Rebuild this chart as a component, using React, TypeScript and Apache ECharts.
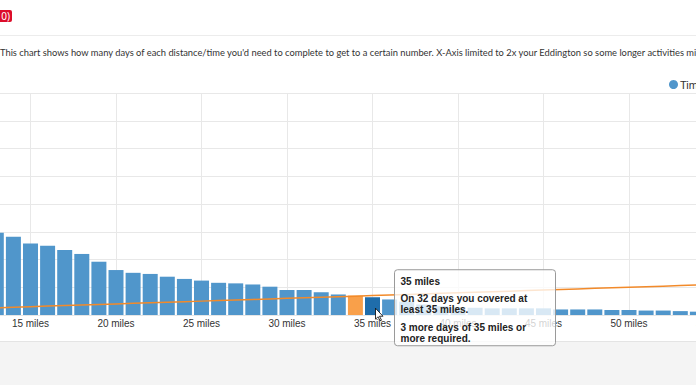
import React, { useEffect, useRef } from "react";
import * as echarts from "echarts";

const miles = [13, 14, 15, 16, 17, 18, 19, 20, 21, 22, 23, 24, 25, 26, 27, 28, 29, 30, 31, 32, 33, 34, 35, 36, 37, 38, 39, 40, 41, 42, 43, 44, 45, 46, 47, 48, 49, 50, 51, 52, 53, 54];
const days = [148, 141, 129, 125, 117, 110, 96, 81, 76, 74, 69, 65, 62, 58, 57, 55, 51, 45, 45, 41, 37, 35, 32, 28, 24, 19, 16, 14, 13, 12, 12, 12, 12, 10, 10, 10, 9, 9, 8, 8, 7, 6];
const eddingtonLine = [12, 13, 14, 15, 16, 17, 18, 19, 20, 21, 22, 23, 24, 25, 26, 27, 28, 29, 30, 31, 32, 33, 34, 35, 36, 37, 38, 39, 40, 41, 42, 43, 44, 45, 46, 47, 48, 49, 50, 51, 52, 53, 54, 55];
const eddington = 34;
const hovered = 35;
const xTicks = { min: 10, max: 55, interval: 5 };
const yTicks = { min: 0, max: 400, interval: 50 };
const description =
  "This chart shows how many days of each distance/time you'd need to complete to get to a certain number. X-Axis limited to 2x your Eddington so some longer activities might not be shown.";

const BLUE = "#5096cb";
const ORANGE = "#f9a04a";
const DARK = "#1f6dab";

export default function App() {
  const ref = useRef<HTMLDivElement>(null);
  useEffect(() => {
    if (!ref.current) return;
    const chart = echarts.init(ref.current, null, { renderer: "svg" });
    const barData = miles.map((m, i) => {
      const item: any = { value: [m, days[i]] };
      if (m === eddington) item.itemStyle = { color: ORANGE };
      if (m === hovered) item.itemStyle = { color: DARK };
      return item;
    });
    const option: any = {
      animation: false,
      legend: {
        data: ["Time"],
        left: 744,
        top: 14,
        icon: "circle",
        itemWidth: 9,
        itemHeight: 9,
        textStyle: { fontSize: 11, color: "#333", fontFamily: "Liberation Sans", padding: [0, 0, 0, -3] },
      },
      grid: { left: 25, right: 25.5, top: 33, bottom: 45, containLabel: false },
      xAxis: {
        type: "value",
        min: xTicks.min,
        max: xTicks.max,
        interval: xTicks.interval,
        axisLine: { show: true, lineStyle: { color: "#e6e6e6" } },
        axisTick: { show: false },
        splitLine: { show: true, lineStyle: { color: "#e8e8e8", width: 1 } },
        axisLabel: {
          formatter: "{value} miles",
          fontSize: 10,
          color: "#333",
          fontFamily: "Liberation Sans",
          margin: 3,
        },
      },
      yAxis: {
        type: "value",
        min: yTicks.min,
        max: yTicks.max,
        interval: yTicks.interval,
        axisLine: { show: false },
        axisTick: { show: false },
        splitLine: { lineStyle: { color: "#e8e8e8" } },
        axisLabel: { show: false },
      },
      series: [
        {
          name: "Time",
          type: "bar",
          barWidth: 15,
          itemStyle: { color: BLUE },
          data: barData,
          z: 2,
        },
        {
          name: "Eddington",
          type: "line",
          data: eddingtonLine.map((m) => [m, m]),
          showSymbol: false,
          lineStyle: { color: "#f28a2a", width: 1.5 },
          itemStyle: { color: "#f28a2a" },
          z: 3,
        },
      ],
    };
    chart.setOption(option);
    const hv = days[miles.indexOf(hovered)];
    const p = chart.convertToPixel({ gridIndex: 0 }, [hovered, hv]) as number[];
    const bx = p[0] + 22;
    const by = p[1] - 27.5;
    const tf = { fontSize: 10, fontWeight: "bold", fill: "#222", fontFamily: "Liberation Sans", verticalAlign: "middle" };
    chart.setOption({
      graphic: [
        {
          type: "rect",
          z: 100,
          shape: { x: bx, y: by, width: 161, height: 76, r: 3 },
          style: { fill: "rgba(255,255,255,0.78)", stroke: "#9a9a9a", lineWidth: 1 },
        },
        { type: "text", z: 101, x: bx + 6, y: by + 12, style: { ...tf, text: `${hovered} miles` } },
        { type: "text", z: 101, x: bx + 6, y: by + 29, style: { ...tf, text: `On ${hv} days you covered at` } },
        { type: "text", z: 101, x: bx + 6, y: by + 40, style: { ...tf, text: `least ${hovered} miles.` } },
        { type: "text", z: 101, x: bx + 6, y: by + 58, style: { ...tf, text: `${hovered - hv} more days of ${hovered} miles or` } },
        { type: "text", z: 101, x: bx + 6, y: by + 68.5, style: { ...tf, text: `more required.` } },
        {
          type: "polygon",
          z: 102,
          x: p[0] + 3,
          y: p[1] + 11,
          shape: { points: [[0, 0], [0, 11], [2.5, 8.5], [4.5, 12.5], [6, 12], [4, 8], [7.5, 8]] },
          style: { fill: "#fff", stroke: "#000", lineWidth: 0.8 },
        },
      ],
    });
    return () => chart.dispose();
  }, []);

  return (
    <div style={{ position: "fixed", left: 0, top: 0, width: 696, height: 385, overflow: "hidden", background: "#fff" }}>
      <div
        style={{
          position: "absolute",
          left: -6,
          top: 10,
          width: 18,
          height: 12,
          background: "#dc0d2a",
          borderRadius: 2,
          color: "#fff",
          fontFamily: "Noto Sans",
          fontSize: 10,
          lineHeight: "12px",
          textAlign: "right",
          paddingRight: 2,
          boxSizing: "border-box",
        }}
      >
        0)
      </div>
      <div style={{ position: "absolute", left: 0, top: 35, width: 696, height: 1, background: "#ececec" }} />
      <div
        style={{
          position: "absolute",
          left: 0,
          top: 46,
          whiteSpace: "nowrap",
          fontFamily: "Lato",
          fontSize: 9.33,
          color: "#333",
          lineHeight: "14px",
        }}
      >
        {description}
      </div>
      <div style={{ position: "absolute", left: 0, top: 341, width: 696, height: 44, background: "#f4f4f4", borderTop: "1px solid #e4e4e4" }} />
      <div ref={ref} style={{ position: "absolute", left: -80, top: 60, width: 820, height: 300, zIndex: 2 }} />
    </div>
  );
}
